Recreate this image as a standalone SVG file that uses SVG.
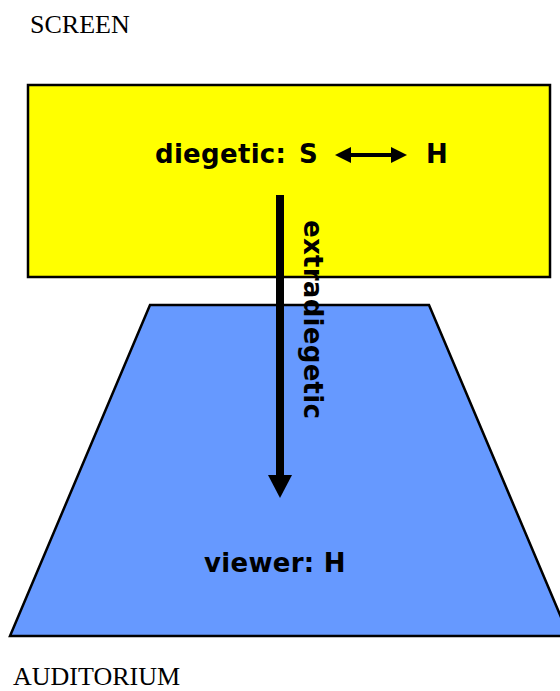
<svg xmlns="http://www.w3.org/2000/svg" width="560" height="691" viewBox="0 0 560 691">
<style>
.lbl{font-family:"Liberation Serif","Times New Roman",serif;font-size:26px;fill:#000}
.bold{font-family:"DejaVu Sans",Verdana,sans-serif;font-weight:bold;font-size:26px;letter-spacing:0.3px;fill:#000}
.shape{stroke:#000;stroke-width:2.5}
</style>
<defs>
<marker id="ah" markerWidth="4" markerHeight="4" refX="3" refY="2" orient="auto-start-reverse" markerUnits="strokeWidth">
<path d="M0,0 L4,2 L0,4 Z" fill="#000"/>
</marker>
</defs>
<rect width="560" height="691" fill="#fff"/>
<text class="lbl" x="30" y="33">SCREEN</text>
<text class="lbl" x="13" y="685">AUDITORIUM</text>
<g id="screen">
<rect class="shape" x="28" y="85" width="522" height="192" fill="#FFFF00"/>
<text class="bold" x="155" y="163">diegetic:</text>
<text class="bold" x="299" y="163">S</text>
<text class="bold" x="426" y="163">H</text>
</g>
<g id="auditorium">
<polygon class="shape" points="150,305 429,305 569,636 10,636" fill="#6699FF"/>
<text class="bold" x="204" y="572">viewer: H</text>
</g>
<g id="connectors">
<line x1="339" y1="155" x2="403" y2="155" stroke="#000" stroke-width="4" marker-start="url(#ah)" marker-end="url(#ah)"/>
<line x1="280" y1="195" x2="280" y2="478" stroke="#000" stroke-width="8"/>
<polygon points="268,475 292,475 280,498" fill="#000"/>
<text class="bold" transform="translate(304,220) rotate(90)" x="0" y="0">extradiegetic</text>
</g>
</svg>
